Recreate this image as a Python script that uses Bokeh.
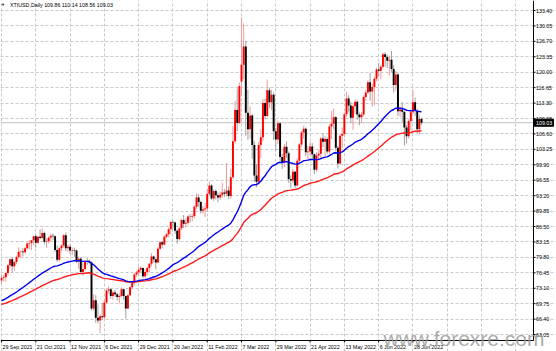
import numpy as np
from bokeh.plotting import figure
from bokeh.models import ColumnDataSource, Range1d, FixedTicker, Grid
from bokeh.core.properties import value
from bokeh.embed import file_html
from bokeh.resources import INLINE

# ---------------- data (bar 0 = 29 Sep 2021 ... bar 196 = 4 Jul 2022) ----------------
opens = [74.8, 75.3, 75.5, 76.4, 78.1, 79.4, 77.9, 78.8, 79.9, 81.0, 81.1, 80.9, 81.8, 82.8, 82.9, 83.5,
         84.4, 83.0, 84.3, 84.0, 85.1, 83.2, 83.3, 84.1, 84.5, 84.4, 81.4, 79.3, 81.8, 82.4, 84.6, 81.8,
         82.1, 81.3, 81.4, 81.3, 78.9, 79.5, 76.6, 77.3, 79.0, 78.9, 78.7, 68.7, 70.5, 66.7, 66.1, 67.0,
         66.8, 70.0, 72.6, 72.9, 71.4, 72.2, 71.8, 71.2, 71.4, 72.9, 71.4, 68.7, 71.6, 73.3, 74.3, 76.1,
         76.5, 77.1, 77.5, 75.7, 76.6, 77.5, 78.4, 80.0, 79.4, 78.7, 81.7, 83.1, 82.6, 84.3, 84.8, 85.9,
         87.5, 87.4, 85.6, 83.8, 86.1, 87.9, 87.1, 87.3, 88.7, 88.6, 88.8, 90.8, 92.8, 91.8, 89.9, 90.2,
         90.4, 93.6, 95.4, 92.6, 94.2, 93.3, 92.8, 93.4, 93.9, 93.6, 94.3, 93.1, 97.2, 105.0, 111.8, 109.0,
         118.0, 121.6, 125.6, 111.2, 107.6, 110.6, 104.2, 97.6, 96.2, 104.2, 105.9, 113.3, 110.5, 116.1, 113.5, 115.1,
         107.2, 105.4, 108.9, 101.6, 100.4, 103.8, 102.4, 96.8, 96.5, 98.4, 95.4, 100.8, 104.3, 106.9, 107.7, 102.6,
         102.8, 103.9, 102.2, 98.8, 101.9, 102.3, 105.6, 104.9, 105.5, 102.8, 108.2, 108.8, 110.2, 103.6, 100.2, 106.2,
         106.6, 110.9, 114.3, 112.8, 110.1, 112.6, 113.6, 110.8, 110.2, 110.8, 114.6, 115.6, 117.8, 115.8, 116.8, 118.6,
         120.6, 120.3, 121.2, 123.9, 123.3, 122.5, 122.7, 120.7, 117.2, 119.5, 111.5, 111.9, 111.4, 108.0, 106.1, 109.4,
         111.3, 113.5, 111.6, 107.6, 109.86]
highs = [75.9, 75.9, 76.6, 78.3, 79.6, 79.9, 79.0, 80.2, 82.0, 81.4, 81.8, 82.1, 83.0, 83.5, 83.6, 84.5,
         84.7, 84.5, 85.9, 86.1, 85.4, 83.9, 84.3, 85.0, 85.0, 84.6, 82.4, 82.0, 82.7, 84.8, 85.2, 82.6,
         82.6, 82.0, 81.9, 81.5, 80.0, 79.9, 78.7, 79.3, 79.6, 79.3, 78.9, 71.8, 71.6, 69.6, 67.6, 69.9,
         70.5, 72.9, 73.5, 73.1, 72.6, 72.8, 72.1, 72.0, 73.3, 73.0, 71.5, 71.9, 73.6, 74.6, 76.4, 76.9,
         77.8, 77.9, 77.6, 77.2, 77.8, 78.6, 80.7, 80.2, 79.6, 82.0, 83.3, 83.4, 84.6, 85.1, 86.3, 87.8,
         87.8, 87.6, 85.9, 86.3, 88.2, 89.0, 88.3, 89.0, 89.2, 89.3, 91.2, 93.7, 93.6, 92.1, 91.0, 91.6,
         94.7, 96.3, 95.7, 94.6, 94.6, 93.9, 94.1, 96.0, 94.6, 100.3, 95.2, 99.0, 108.3, 113.8, 116.5, 117.8,
         131.9, 130.6, 126.8, 116.2, 112.5, 110.9, 105.0, 100.0, 104.9, 107.6, 114.2, 114.3, 118.4, 116.7, 116.2, 115.6,
         107.9, 109.5, 109.1, 102.3, 104.4, 105.0, 102.8, 97.6, 99.0, 98.6, 101.3, 104.6, 107.3, 108.4, 108.0, 104.0,
         104.9, 104.6, 102.3, 102.6, 103.1, 105.9, 106.7, 106.2, 105.9, 108.7, 111.6, 112.1, 110.5, 104.0, 106.6, 108.0,
         111.3, 115.7, 115.0, 113.6, 113.0, 114.1, 113.9, 111.3, 111.4, 115.0, 116.2, 118.3, 119.8, 117.5, 119.0, 121.0,
         122.0, 121.6, 124.3, 124.4, 123.8, 123.6, 124.6, 121.5, 120.3, 119.8, 112.6, 113.5, 111.5, 108.6, 109.8, 111.9,
         116.0, 114.5, 112.1, 110.7, 110.14]
lows = [74.1, 74.6, 74.5, 75.8, 77.4, 76.5, 76.9, 78.3, 79.5, 79.6, 80.0, 80.6, 81.5, 81.6, 81.4, 82.4,
        81.9, 82.7, 83.7, 83.8, 82.6, 81.9, 82.8, 83.1, 83.6, 81.0, 78.8, 79.0, 81.1, 81.9, 81.1, 81.0,
        80.5, 80.3, 79.9, 78.6, 77.3, 76.3, 75.9, 76.9, 78.2, 78.3, 68.3, 68.2, 65.6, 65.5, 63.3, 66.3,
        66.4, 69.8, 71.9, 70.8, 70.6, 71.2, 70.4, 69.8, 71.1, 70.6, 66.5, 68.6, 71.4, 72.8, 73.8, 75.6,
        75.8, 76.4, 75.3, 75.3, 75.9, 76.5, 77.9, 78.7, 77.2, 78.5, 81.4, 81.8, 82.3, 84.0, 84.2, 84.8,
        85.9, 84.9, 82.8, 83.4, 85.7, 86.2, 86.3, 86.9, 87.3, 87.6, 88.3, 90.3, 90.7, 89.3, 89.3, 88.6,
        89.9, 93.2, 92.3, 92.0, 92.4, 91.8, 92.3, 92.7, 92.9, 93.0, 92.5, 92.6, 96.8, 104.5, 107.2, 108.8,
        115.0, 118.5, 106.2, 105.3, 105.6, 101.2, 96.2, 95.0, 95.6, 101.4, 105.0, 109.8, 110.3, 112.2, 111.8, 105.3,
        102.9, 104.4, 100.5, 99.0, 99.4, 101.4, 96.0, 94.8, 95.8, 94.8, 95.2, 99.9, 103.8, 105.6, 101.8, 101.0,
        102.0, 101.2, 97.9, 98.4, 100.8, 101.4, 103.7, 101.7, 102.3, 102.3, 105.5, 107.6, 102.8, 99.1, 99.8, 103.6,
        105.9, 110.3, 111.3, 109.0, 107.5, 110.9, 109.7, 108.5, 109.0, 110.4, 113.8, 115.3, 113.8, 112.5, 112.8, 118.0,
        119.0, 118.5, 120.8, 121.2, 120.9, 119.3, 120.1, 115.6, 116.0, 110.5, 110.2, 109.2, 104.1, 104.6, 105.6, 107.4,
        110.9, 110.5, 106.8, 106.5, 108.56]
closes = [75.3, 75.5, 76.4, 78.1, 79.4, 77.9, 78.8, 79.9, 81.0, 81.1, 80.9, 81.8, 82.8, 82.9, 83.5, 84.4,
          83.0, 84.3, 84.0, 85.1, 83.2, 83.3, 84.1, 84.5, 84.4, 81.4, 79.3, 81.8, 82.4, 84.6, 81.8, 82.1,
          81.3, 81.4, 81.3, 78.9, 79.5, 76.6, 77.3, 79.0, 78.9, 78.7, 68.7, 70.5, 66.7, 66.1, 67.0, 66.8,
          70.0, 72.6, 72.9, 71.4, 72.2, 71.8, 71.2, 71.4, 72.9, 71.4, 68.7, 71.6, 73.3, 74.3, 76.1, 76.5,
          77.1, 77.5, 75.7, 76.6, 77.5, 78.4, 80.0, 79.4, 78.7, 81.7, 83.1, 82.6, 84.3, 84.8, 85.9, 87.5,
          87.4, 85.6, 83.8, 86.1, 87.9, 87.1, 87.3, 88.7, 88.6, 88.8, 90.8, 92.8, 91.8, 89.9, 90.2, 90.4,
          93.6, 95.4, 92.6, 94.2, 93.3, 92.8, 93.4, 93.9, 93.6, 94.3, 93.1, 97.2, 105.0, 111.8, 109.0, 117.0,
          121.6, 125.6, 111.2, 107.6, 110.6, 104.2, 97.6, 96.2, 104.2, 105.9, 113.3, 110.5, 116.1, 113.5, 115.1, 107.2,
          105.4, 108.9, 101.6, 100.4, 103.8, 102.4, 96.8, 96.5, 98.4, 95.4, 100.8, 104.3, 106.9, 107.7, 102.6, 102.8,
          103.9, 102.2, 98.8, 101.9, 102.3, 105.6, 104.9, 105.5, 102.8, 108.2, 108.8, 110.2, 103.6, 100.2, 106.2, 106.6,
          110.9, 114.3, 112.8, 110.1, 112.6, 113.6, 110.8, 110.2, 110.8, 114.6, 115.6, 117.8, 115.8, 116.8, 118.6, 120.6,
          120.3, 121.2, 123.9, 123.3, 122.5, 122.7, 120.7, 117.2, 119.5, 111.5, 111.9, 111.4, 108.0, 106.1, 109.4, 111.3,
          113.5, 111.6, 107.6, 109.86, 109.03]

date_labels = ["29 Sep 2021", "21 Oct 2021", "12 Nov 2021", "6 Dec 2021", "29 Dec 2021",
               "20 Jan 2022", "11 Feb 2022", "7 Mar 2022", "29 Mar 2022", "21 Apr 2022",
               "13 May 2022", "6 Jun 2022", "28 Jun 2022"]
date_label_bars = [0, 16, 32, 48, 64, 80, 96, 112, 128, 144, 160, 176, 192]
price_ticks = [133.40, 130.05, 126.70, 123.35, 120.00, 116.65, 113.30, 109.95, 106.60, 103.25, 99.90,
               96.55, 93.20, 89.85, 86.50, 83.15, 79.80, 76.45, 73.10, 69.75, 66.40, 63.05]

# moving averages (values at the first bar)
blue_ma_period, blue_ma_first = 50, 70.4
red_ma_period, red_ma_first = 90, 69.6

header_text = "XTIUSD,Daily  109.86 110.14 108.56 109.03"
last_price = 109.03
watermark = "www.forexre.com"

# ---------------- helpers ----------------
def ema(vals, period, first):
    a = 2.0 / (period + 1)
    out = [first]
    for v in vals[1:]:
        out.append(a * v + (1 - a) * out[-1])
    return out

n = len(closes)
idx = np.arange(n)
o = np.array(opens); h = np.array(highs); l = np.array(lows); c = np.array(closes)
bull = c >= o
bear = ~bull

# geometry (pixels); the plot frame covers the whole page, the price and
# time scales are drawn inside it at the right and at the bottom
W, H = 556, 351
AXIS_X_PX, AXIS_Y_PX = 533, 340
BAR0_PX, BAR_PX = 1.0, 2.143
P_TOP_PX, P_TOP = 10.0, 133.40
PX_PER_UNIT = 4.606

def px_x(px):
    return (px - BAR0_PX) / BAR_PX

def px_y(py):
    return P_TOP - (py - P_TOP_PX) / PX_PER_UNIT

x_start, x_end = px_x(0), px_x(W)
y_start, y_end = px_y(H), px_y(0)

FONT = value("Liberation Sans")
FS = value("5.3px")

p = figure(width=W, height=H, output_backend="svg", toolbar_location=None,
           x_range=Range1d(x_start, x_end), y_range=Range1d(y_start, y_end),
           x_axis_location=None, y_axis_location=None,
           min_border_left=0, min_border_right=0, min_border_top=0, min_border_bottom=0)
p.outline_line_color = None
p.background_fill_color = "white"
p.border_fill_color = "white"
p.xgrid.visible = False
p.ygrid.visible = False

# dashed grid inside the chart area
grid_bars = list(range(0, 250, 16))
p.add_layout(Grid(dimension=0, ticker=FixedTicker(ticks=grid_bars),
                  bounds=(px_y(AXIS_Y_PX), y_end),
                  grid_line_color="#c8c8c8", grid_line_dash="3 2", grid_line_width=1))
p.add_layout(Grid(dimension=1, ticker=FixedTicker(ticks=price_ticks),
                  bounds=(x_start, px_x(AXIS_X_PX)),
                  grid_line_color="#c8c8c8", grid_line_dash="3 2", grid_line_width=1))

# bid line
p.segment(x0=[x_start], y0=[last_price], x1=[px_x(AXIS_X_PX)], y1=[last_price],
          line_color="#c0c0c0", line_width=1)

# candles
src_bull = ColumnDataSource(dict(x=idx[bull], o=o[bull], h=h[bull], l=l[bull], c=c[bull]))
src_bear = ColumnDataSource(dict(x=idx[bear], o=o[bear], h=h[bear], l=l[bear], c=c[bear]))
p.segment(x0="x", y0="l", x1="x", y1="h", source=src_bull, line_color="#f29a9a", line_width=1)
p.segment(x0="x", y0="l", x1="x", y1="h", source=src_bear, line_color="#a0a0a0", line_width=1)
p.vbar(x="x", width=0.9, top="c", bottom="o", source=src_bull, fill_color="#ff0000", line_color=None)
p.vbar(x="x", width=0.9, top="o", bottom="c", source=src_bear, fill_color="#000000", line_color=None)

# moving averages
p.line(idx, ema(closes, red_ma_period, red_ma_first), line_color="#ff1a1a", line_width=1.4)
p.line(idx, ema(closes, blue_ma_period, blue_ma_first), line_color="#0000ee", line_width=1.4)

# scale lines
ax, ay = px_x(AXIS_X_PX), px_y(AXIS_Y_PX)
p.segment(x0=[ax, x_start], y0=[y_end, ay], x1=[ax, ax], y1=[ay, ay],
          line_color="black", line_width=1)

# price scale: ticks and labels
p.segment(x0=[ax] * len(price_ticks), y0=price_ticks, x1=[px_x(AXIS_X_PX + 2)] * len(price_ticks),
          y1=price_ticks, line_color="black", line_width=1)
p.text(x=[px_x(AXIS_X_PX + 2.5)] * len(price_ticks), y=price_ticks,
       text=[f"{v:.2f}" for v in price_ticks], text_font=FONT, text_font_size=FS,
       text_align="left", text_baseline="middle", text_color="black")

# time scale: ticks and labels
p.segment(x0=date_label_bars, y0=[ay] * len(date_label_bars), x1=date_label_bars,
          y1=[px_y(AXIS_Y_PX + 2)] * len(date_label_bars), line_color="black", line_width=1)
p.text(x=date_label_bars, y=[px_y(AXIS_Y_PX + 6)] * len(date_label_bars), text=date_labels,
       x_offset=1, text_font=FONT, text_font_size=FS, text_align="left",
       text_baseline="middle", text_color="black")

# current price box
half_box = 3.5 / PX_PER_UNIT
p.quad(left=[ax], right=[px_x(AXIS_X_PX + 20)], top=[last_price + half_box],
       bottom=[last_price - half_box], fill_color="black", line_color="black")
p.text(x=[px_x(AXIS_X_PX + 2.5)], y=[last_price], text=[f"{last_price:.2f}"],
       text_font=FONT, text_font_size=FS, text_align="left", text_baseline="middle",
       text_color="white")

# header
p.text(x=[px_x(2.5)], y=[px_y(4.0)], text=["\u25bc"], text_font_size=value("4px"),
       text_align="center", text_baseline="middle", text_color="black")
p.text(x=[px_x(9.5)], y=[px_y(4.5)], text=[header_text], text_font=FONT, text_font_size=FS,
       text_align="left", text_baseline="middle", text_color="black")

# watermark (centre of the text box about 7 px above its baseline)
p.text(x=[px_x(383)], y=[px_y(337.5)], text=[watermark], text_font=FONT,
       text_font_size=value("21px"), text_align="left", text_baseline="middle",
       text_color="#9c9c9c", text_alpha=0.85)

open("out.html", "w").write(file_html(p, INLINE))
